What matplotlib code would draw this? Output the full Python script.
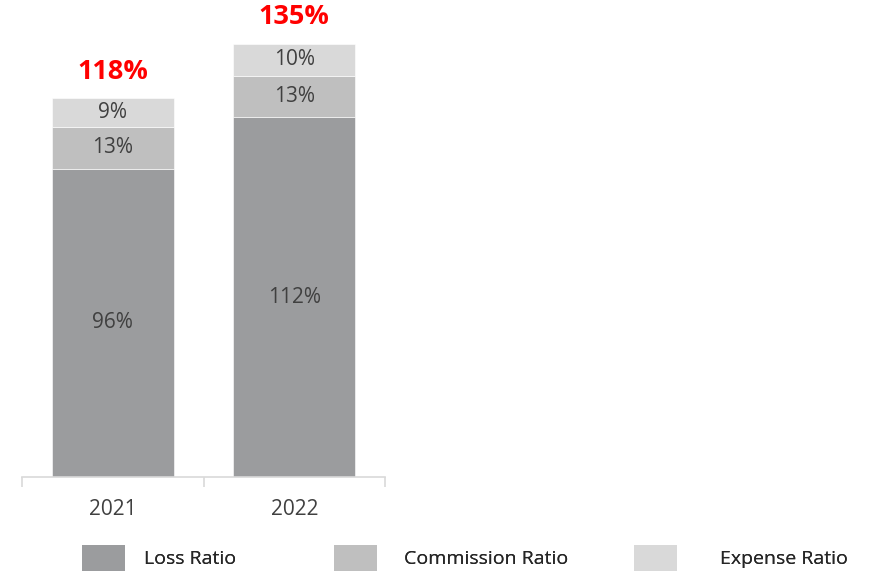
import numpy as np
import matplotlib.pyplot as plt
from matplotlib.patches import Patch

years = ['2021', '2022']
series = ['Loss Ratio', 'Commission Ratio', 'Expense Ratio']
loss = [96, 112]
commission = [13, 13]
expense = [9, 10]
totals = [118, 135]
colors = ['#9b9c9e', '#bfbfbf', '#d9d9d9']

plt.rcParams['font.family'] = ['Open Sans', 'DejaVu Sans']

fig = plt.figure(figsize=(8.69, 5.74), dpi=100)
# axes spans only the two categories (x 22..385 px, baseline at y 477 px)
ax = fig.add_axes([22 / 869, 1 - 477 / 574, 363 / 869, 477 / 574])

x = np.arange(len(years))
bottom = np.zeros(len(years))
for vals, name, c in zip([loss, commission, expense], series, colors):
    bars = ax.bar(x, vals, width=0.67, bottom=bottom, color=c, label=name,
                  edgecolor='white', linewidth=0.4)
    ax.bar_label(bars, labels=[f'{v}%' for v in vals], label_type='center',
                 fontsize=15, color='#404040')
    bottom += np.array(vals)

for xi, t in zip(x, totals):
    ax.annotate(f'{t}%', (xi, t), xytext=(0, 19), textcoords='offset points',
                ha='center', va='center', fontsize=19.5, fontweight='bold',
                color='#ff0000')

ax.set_xlim(-0.5, 1.5)
ax.set_ylim(0, 477 / 3.21)
for s in ['left', 'top', 'right']:
    ax.spines[s].set_visible(False)
ax.spines['bottom'].set_color('#d9d9d9')
ax.spines['bottom'].set_linewidth(1.2)
ax.set_yticks([])
ax.set_xticks(x)
ax.set_xticklabels(years)
ax.tick_params(axis='x', which='major', length=0, pad=16, labelsize=15,
               labelcolor='#404040')
ax.set_xticks([-0.5, 0.5, 1.5], minor=True)
ax.tick_params(axis='x', which='minor', length=7, width=1.2, color='#d9d9d9')

# legend entries placed one by one
leg_x = [82, 334, 634]
leg_pad = [1.0, 1.4, 2.2]
for name, c, lx, pad in zip(series, colors, leg_x, leg_pad):
    lg = fig.legend(handles=[Patch(facecolor=c, label=name)], loc='center left',
                    bbox_to_anchor=(lx / 869, 1 - 558 / 574), frameon=False,
                    fontsize=14, handlelength=2.2, handleheight=1.7,
                    handletextpad=pad, borderpad=0, borderaxespad=0)
    for t in lg.get_texts():
        t.set_color('#262626')
    fig.add_artist(lg)

fig.savefig('out.png', dpi=100)
